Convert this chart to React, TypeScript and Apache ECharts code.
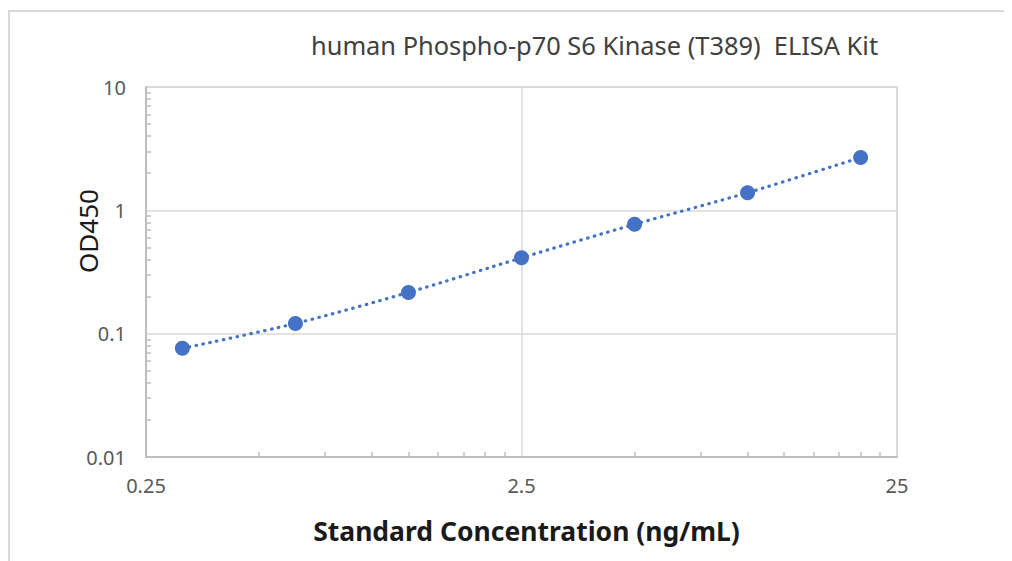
import React, { useEffect, useRef } from "react";
import * as echarts from "echarts";

const titleText = "human Phospho-p70 S6 Kinase (T389)  ELISA Kit";
const xName = "Standard Concentration (ng/mL)";
const yName = "OD450";

const concentrations = [0.3125, 0.625, 1.25, 2.5, 5, 10, 20];
const od450 = [0.076, 0.121, 0.216, 0.412, 0.77, 1.39, 2.68];

const xBase = 0.25; // first x tick label
const xDecades = 2; // 0.25 .. 25
const yMinExp = -2; // 0.01
const yMaxExp = 1; // 10
const minorMultipliers = [2, 3, 4, 5, 6, 7, 8, 9];

const FONT = "'Noto Sans', 'Open Sans', sans-serif";
const BLUE = "#4472C4";

function minorPositions(startExp: number, decades: number): number[] {
  const out: number[] = [];
  for (let d = 0; d < decades; d++) {
    for (const m of minorMultipliers) out.push(startExp + d + Math.log10(m));
  }
  return out;
}

export default function App() {
  const ref = useRef<HTMLDivElement>(null);

  useEffect(() => {
    if (!ref.current) return;
    document.documentElement.style.overflow = "hidden";
    document.body.style.overflow = "hidden";
    const chart = echarts.init(ref.current, undefined, { renderer: "svg" });

    const points = concentrations.map((c, i) => [
      Math.log10(c / xBase),
      Math.log10(od450[i]),
    ]);

    const gridLine = { color: "#d9d9d9", width: 1.5 };
    const axisLine = { show: true, onZero: false, lineStyle: { color: "#bfbfbf", width: 2 } };

    const option: any = {
      animation: false,
      backgroundColor: "#ffffff",
      title: {
        text: titleText,
        left: 296,
        top: 15,
        textStyle: {
          fontFamily: FONT,
          fontSize: 25.4,
          fontWeight: "normal",
          color: "#404040",
        },
      },
      grid: {
        left: 136,
        right: 123,
        top: 75,
        bottom: 115,
        show: true,
        borderColor: "#d9d9d9",
        borderWidth: 1.5,
        containLabel: false,
      },
      xAxis: [
        {
          type: "value",
          min: 0,
          max: xDecades,
          interval: 1,
          axisLine,
          axisTick: { show: false },
          splitLine: { show: true, lineStyle: gridLine },
          axisLabel: {
            margin: 18,
            fontFamily: FONT,
            fontSize: 20,
            color: "#595959",
            formatter: (v: number) => String(Number((xBase * Math.pow(10, v)).toPrecision(3))),
          },
          name: xName,
          nameLocation: "middle",
          nameGap: 60,
          nameMoveOverlap: false,
          nameTextStyle: {
            fontFamily: FONT,
            fontSize: 26.5,
            fontWeight: "bold",
            color: "#1a1a1a",
            padding: [0, 0, 0, 10],
          },
        },
        {
          type: "value",
          min: 0,
          max: xDecades,
          position: "bottom",
          axisLine: { show: false, onZero: false },
          axisLabel: { show: false },
          splitLine: { show: false },
          axisTick: {
            show: true,
            inside: true,
            length: 5,
            customValues: minorPositions(0, xDecades),
            lineStyle: { color: "#bfbfbf", width: 1.5 },
          },
        },
      ],
      yAxis: [
        {
          type: "value",
          min: yMinExp,
          max: yMaxExp,
          interval: 1,
          axisLine,
          axisTick: { show: false },
          splitLine: { show: true, lineStyle: gridLine },
          axisLabel: {
            margin: 20,
            fontFamily: FONT,
            fontSize: 20,
            color: "#595959",
            formatter: (v: number) => String(Number(Math.pow(10, v).toPrecision(2))),
          },
          name: yName,
          nameLocation: "middle",
          nameGap: 45,
          nameMoveOverlap: false,
          nameTextStyle: {
            fontFamily: FONT,
            fontSize: 26,
            color: "#1a1a1a",
            padding: [0, 0, 0, 82],
          },
        },
        {
          type: "value",
          min: yMinExp,
          max: yMaxExp,
          position: "left",
          axisLine: { show: false, onZero: false },
          axisLabel: { show: false },
          splitLine: { show: false },
          axisTick: {
            show: true,
            inside: true,
            length: 5,
            customValues: minorPositions(yMinExp, yMaxExp - yMinExp),
            lineStyle: { color: "#bfbfbf", width: 1.5 },
          },
        },
      ],
      series: [
        {
          type: "line",
          xAxisIndex: 0,
          yAxisIndex: 0,
          data: points,
          smooth: 0.3,
          symbol: "circle",
          symbolSize: 15,
          itemStyle: { color: BLUE },
          lineStyle: { color: BLUE, width: 3.2, type: [0.5, 6.5], cap: "round" },
          z: 3,
        },
      ],
    };

    chart.setOption(option);
    return () => chart.dispose();
  }, []);

  return (
    <div style={{ position: "relative", width: 1004, height: 553, overflow: "hidden" }}>
      <div
        ref={ref}
        style={{
          position: "absolute",
          left: 0,
          top: 2,
          width: 1010,
          height: 560,
          borderLeft: "2px solid #d9d9d9",
          borderTop: "2px solid #d9d9d9",
        }}
      />
    </div>
  );
}
